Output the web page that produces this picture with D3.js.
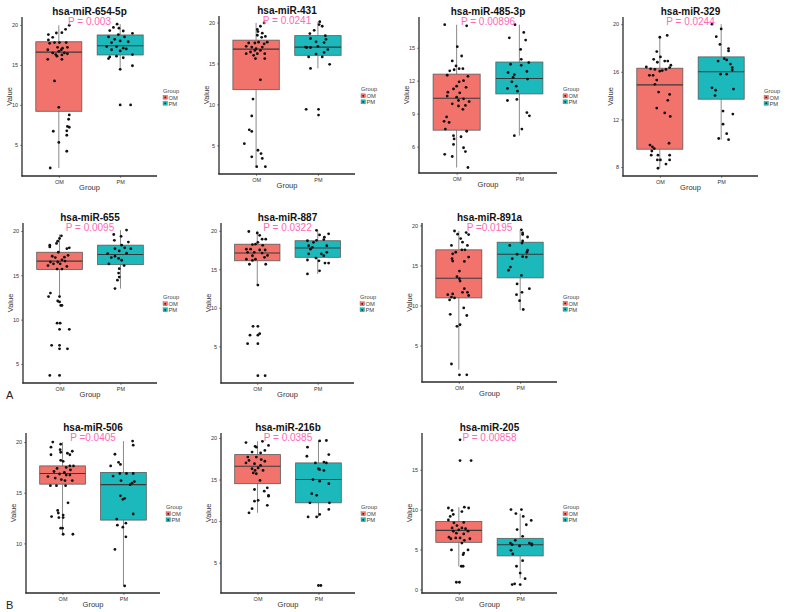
<!DOCTYPE html>
<html><head><meta charset="utf-8">
<script src="https://cdn.jsdelivr.net/npm/d3@7"></script>
<style>body{margin:0;background:#fff} text{font-family:"Liberation Sans",Arial,sans-serif}</style>
</head><body><svg id="c" width="800" height="612"></svg>
<script>
const titles = ["hsa-miR-654-5p","hsa-miR-431","hsa-miR-485-3p","hsa-miR-329","hsa-miR-655","hsa-miR-887","hsa-miR-891a","hsa-miR-506","hsa-miR-216b","hsa-miR-205"];
const pLabels = ["P = 0.003","P = 0.0241","P = 0.00896","P = 0.0244","P = 0.0095","P = 0.0322","P =0.0195","P =0.0405","P = 0.0385","P = 0.00858"];
const groups = ["OM","PM"];
const yTicks = [[5,10,15,20],[5,10,15,20],[6,9,12,15],[8,12,16,20],[5,10,15,20],[5,10,15,20],[5,10,15,20],[10,15,20],[5,10,15,20],[0,5,10,15]];
const yDomains = [[1.1,21.0],[1.5,20.8],[3.6,17.8],[7.25,20.6],[2.85,20.9],[0.25,21.0],[0.45,20.3],[5.1,20.9],[1.35,20.6],[-0.45,19.6]];
// box stats: [lower whisker, q1, median, q3, upper whisker]
const boxOM = [[2.1,9.2,16.6,17.9,19.96],[2.4,11.8,16.75,17.85,19.96],[4.1,7.5,10.4,12.6,17.1],[7.9,9.5,14.9,16.3,19.0],[12.55,15.65,16.6,17.6,19.6],[12.95,16.1,17.1,18.25,19.9],[2.0,10.95,13.4,16.95,19.3],[10.9,15.85,16.9,17.65,20.0],[11.0,14.5,16.6,18.0,19.6],[2.9,5.9,7.4,8.5,10.3]];
const boxPM = [[14.4,16.25,17.4,18.75,20.1],[14.4,16.0,17.0,18.4,20.1],[7.0,10.8,12.2,13.7,17.1],[10.3,13.7,16.0,17.25,20.0],[13.5,16.2,17.35,18.4,20.1],[14.4,16.55,17.75,18.7,20.05],[9.4,13.45,16.4,17.9,19.45],[5.8,12.3,15.8,17.0,20.1],[10.5,12.2,15.0,17.0,19.7],[1.35,4.2,5.6,6.4,9.5]];
// points: [value, jitter (category units)]
const ptsOM = [
[[19.96,.17],[19.46,.11],[19.04,.05],[19.0,-.04],[18.8,-.17],[18.46,-.10],[18.13,-.17],[17.8,-.07],[17.8,.01],[17.7,-.15],[17.8,.12],[17.2,-.02],[17.1,.06],[17.2,.14],[16.9,-.18],[16.9,.04],[16.5,-.10],[16.7,0],[16.5,.09],[16.3,-.05],[16.4,.14],[16.25,.05],[16.1,-.03],[15.7,-.18],[15.7,.05],[13.0,-.07],[9.7,0],[8.75,.17],[8.2,.16],[7.3,.14],[7.2,.17],[6.75,.13],[6.2,.13],[6.7,-.09],[5.3,0],[4.2,.13],[2.1,-.14]],
[[19.96,.13],[19.55,.07],[19.15,.02],[18.9,.03],[18.7,.1],[18.45,.02],[18.3,.15],[18.2,.09],[17.6,.04],[17.6,.18],[17.5,-.02],[17.5,-.12],[17.4,.13],[17.1,-.16],[17.0,-.07],[17.0,.1],[16.8,0],[16.6,-.02],[16.6,.07],[16.4,-.09],[16.2,-.16],[16.2,.02],[16.2,.14],[16.0,-.04],[15.6,-.01],[15.6,.14],[13.0,.07],[10.65,-.05],[8.6,-.07],[6.9,-.11],[6.7,-.07],[5.2,-.19],[4.4,.03],[4.0,.08],[3.6,-.07],[3.4,.10],[2.4,.01],[2.4,.15]],
[[17.1,-.19],[17.0,.16],[15.1,.01],[14.25,.08],[13.8,-.07],[13.35,-.01],[13.1,.04],[13.1,.10],[13.0,-.04],[12.9,-.11],[12.5,-.15],[12.4,.18],[12.0,.11],[11.9,.04],[11.5,0],[11.4,.15],[11.25,-.05],[10.95,-.14],[10.9,.05],[10.6,-.15],[10.5,0],[10.35,.11],[10.2,.03],[10.1,.20],[9.9,-.07],[9.75,.14],[9.7,.03],[9.4,.10],[8.7,-.16],[8.3,-.2],[8.2,-.12],[7.6,-.18],[7.4,.16],[7.0,-.05],[6.9,.07],[6.7,-.04],[6.2,-.05],[5.9,.11],[5.55,.14],[5.3,-.19],[5.1,-.07],[4.1,.18]],
[[18.9,0],[19.05,.12],[17.7,-.05],[17.05,-.1],[17.25,.01],[16.9,.08],[16.8,-.04],[16.9,.13],[16.4,-.22],[16.25,-.15],[16.2,-.08],[16.2,.1],[16.35,.16],[16.1,.04],[16.55,.18],[15.7,-.17],[15.7,-.11],[16.05,0],[15.3,-.05],[14.95,-.08],[14.3,-.02],[13.6,.13],[14.1,.16],[12.95,-.05],[12.55,.08],[12.25,.17],[10.0,.15],[9.85,-.16],[9.7,-.12],[9.55,-.09],[9.35,-.13],[9.0,-.14],[9.0,-.03],[9.0,.16],[8.6,.01],[8.6,.16],[8.6,-.04],[8.25,.1],[7.9,-.03]],
[[19.45,.03],[19.15,0],[18.85,-.03],[18.6,-.05],[18.4,-.16],[18.2,-.16],[18.1,.16],[18.0,.12],[17.6,-.02],[17.15,-.12],[17.0,-.07],[17.05,.08],[17.25,.14],[16.75,.04],[16.5,-.15],[16.5,-.03],[16.6,.09],[16.3,-.1],[16.1,-.19],[16.3,.01],[16.0,.12],[15.7,-.04],[15.7,.04],[13.0,-.15],[12.6,-.18],[12.6,0],[12.1,-.03],[12.0,0],[11.6,.02],[11.6,.04],[9.6,-.04],[9.6,.01],[8.9,0],[8.9,.16],[7.1,-.13],[7.1,0],[6.7,0],[6.7,.13],[3.7,-.16],[3.7,0]],
[[19.9,-.14],[19.7,0],[19.4,.04],[18.9,.08],[18.9,.14],[18.5,.01],[18.2,-.08],[18.25,-.03],[18.1,.09],[17.6,-.18],[17.6,-.11],[17.5,.04],[17.5,.13],[17.2,-.16],[17.2,-.05],[17.1,.08],[16.75,-.08],[16.8,.17],[16.55,.12],[16.3,-.18],[16.15,-.08],[16.3,-.03],[15.65,-.13],[15.65,.14],[12.95,.01],[7.6,-.07],[7.6,.01],[6.45,-.12],[6.45,.01],[6.65,.04],[5.35,-.16],[5.35,.01],[1.2,.01],[1.2,.13]],
[[19.3,-.07],[19.1,.12],[18.9,-.02],[18.85,.16],[18.35,.03],[17.9,.06],[17.5,-.12],[17.5,.14],[16.95,.05],[16.95,.1],[16.65,-.05],[16.45,-.1],[15.85,-.11],[15.55,-.1],[16.05,.16],[15.5,.09],[14.3,.01],[13.6,-.03],[13.35,.01],[13.05,.02],[12.1,.09],[11.65,.06],[11.65,.14],[11.45,-.1],[11.35,-.18],[11.05,-.12],[10.95,-.07],[11.25,.16],[10.7,-.15],[9.7,.08],[8.75,.13],[8.9,-.14],[7.6,.02],[7.4,-.03],[2.7,-.12],[1.35,.01],[1.35,.13]],
[[20.0,-.16],[19.8,-.03],[19.5,-.19],[19.25,-.04],[19.0,-.03],[19.1,.16],[18.75,-.19],[18.9,.08],[18.75,.12],[18.2,-.03],[18.1,.01],[17.65,.12],[17.65,.18],[17.5,.06],[17.4,-.09],[17.25,.13],[17.1,-.14],[17.0,.03],[16.85,-.05],[16.75,.06],[16.75,.12],[16.6,-.24],[16.45,-.12],[16.3,-.02],[16.2,.04],[16.2,.16],[15.7,-.2],[15.7,-.1],[15.7,.05],[14.0,.09],[13.25,-.08],[13.0,-.07],[12.8,.01],[12.65,-.18],[12.55,-.06],[12.55,.01],[11.5,-.03],[11.5,0],[10.9,.01],[10.9,.17]],
[[19.45,-.19],[19.6,.08],[19.0,-.04],[18.9,-.02],[19.1,.18],[18.5,.12],[18.2,.05],[18.3,-.09],[17.7,-.16],[17.7,-.02],[17.3,-.14],[17.4,.06],[17.2,.12],[17.0,-.19],[16.9,-.05],[16.7,.05],[16.4,.01],[16.3,-.09],[16.1,-.04],[16.1,.09],[15.8,-.07],[15.7,-.02],[14.9,.04],[13.8,-.05],[14.0,.16],[13.6,.11],[13.1,.18],[13.0,.18],[12.5,.01],[12.4,-.05],[11.9,.16],[11.5,-.09],[11.0,-.14]],
[[18.75,.02],[16.15,.02],[16.15,.2],[10.2,-.17],[10.3,.09],[10.2,.16],[9.9,-.11],[9.75,.05],[9.4,-.09],[9.15,-.14],[8.7,-.17],[8.35,-.08],[8.4,.08],[8.0,-.03],[7.7,-.11],[7.7,.05],[7.6,.11],[7.45,0],[7.3,-.09],[7.3,.15],[7.05,-.04],[6.95,.08],[6.55,-.16],[6.45,-.05],[6.35,-.13],[6.45,.02],[6.35,.18],[6.15,.09],[5.8,.05],[4.95,-.12],[4.95,.15],[4.55,.08],[4.35,.07],[2.9,.04],[2.9,.07],[0.9,-.04],[0.9,.01]]
];
const ptsPM = [
[[20.1,-.05],[19.7,-.11],[19.6,-.02],[19.3,-.17],[19.25,.05],[18.96,.2],[18.8,-.03],[18.5,-.19],[18.5,.07],[18.2,-.09],[18.0,0],[17.8,-.14],[17.9,.13],[17.3,-.22],[17.3,-.06],[17.1,.05],[16.9,-.14],[17.0,.1],[16.75,0],[16.3,.2],[16.0,-.17],[16.1,-.06],[15.8,-.19],[15.9,.05],[14.45,0],[14.9,.2],[10.0,0],[10.0,.17]],
[[20.1,.03],[19.75,.02],[19.55,.07],[19.05,-.06],[18.65,-.13],[18.4,.12],[18.05,-.12],[17.95,.13],[17.65,-.03],[17.55,.1],[17.0,-.2],[16.95,-.18],[16.95,-.12],[17.1,0],[16.7,.16],[16.35,.1],[16.15,-.03],[15.8,-.15],[15.8,.07],[14.9,.19],[14.4,-.12],[9.4,-.19],[9.4,.01],[8.7,.01]],
[[17.1,-.07],[16.4,.07],[15.9,-.16],[15.7,.1],[14.85,.02],[13.95,.03],[13.5,-.14],[13.65,.15],[13.4,.03],[12.75,-.18],[12.85,.12],[12.55,-.08],[12.3,-.1],[12.15,.13],[11.9,-.12],[11.5,-.05],[11.3,-.19],[11.05,-.03],[10.2,-.19],[10.3,-.04],[9.1,.12],[8.8,.16],[7.6,.04],[7.0,-.08]],
[[20.0,-.15],[19.6,0],[18.95,-.08],[18.3,-.02],[17.95,.12],[17.75,.12],[17.1,.05],[17.0,.09],[16.9,-.05],[16.65,.15],[16.15,.18],[16.35,.18],[15.8,-.01],[15.8,.09],[14.65,-.15],[14.45,-.09],[14.55,.2],[14.0,-.1],[12.7,.03],[12.45,.19],[11.6,.03],[10.8,.09],[10.4,-.04],[10.3,.12]],
[[20.1,.1],[19.6,-.11],[19.4,.01],[18.95,-.1],[18.75,.13],[18.4,.02],[18.0,-.09],[18.1,.07],[18.0,.17],[17.75,-.02],[17.45,-.21],[17.15,-.09],[17.5,.1],[17.0,-.15],[16.9,-.03],[16.7,.02],[16.3,-.19],[16.1,.06],[15.75,-.02],[15.25,-.03],[14.8,-.02],[14.45,-.05],[13.5,-.09]],
[[20.05,-.02],[19.6,.18],[19.45,.03],[19.15,.11],[18.85,.1],[18.7,-.17],[18.5,-.07],[18.75,-.02],[18.05,-.15],[17.85,-.09],[18.05,.15],[17.6,-.12],[17.0,-.15],[17.0,.06],[17.2,.15],[16.75,.1],[16.45,-.03],[16.2,-.17],[16.1,.02],[15.8,.18],[15.8,.12],[14.8,.03],[14.4,-.17]],
[[19.45,.02],[19.05,.04],[18.85,.04],[18.55,.12],[18.05,.04],[17.8,.03],[17.5,-.17],[16.9,.12],[16.65,.11],[16.1,.04],[16.05,.1],[16.4,-.05],[15.85,-.13],[14.8,-.16],[14.4,-.19],[12.7,-.05],[13.75,.02],[12.1,.15],[11.65,.03],[11.35,-.06],[10.6,-.01],[9.5,.05]],
[[20.1,.15],[19.7,.16],[18.8,-.14],[18.0,-.08],[17.8,-.05],[17.65,-.21],[16.65,-.17],[16.9,-.06],[16.9,.05],[16.9,.16],[16.2,-.04],[16.1,.18],[15.8,.11],[15.95,.14],[14.7,-.05],[14.35,-.01],[14.45,.02],[12.9,.16],[12.4,-.11],[12.0,.04],[11.8,-.1],[11.6,-.01],[10.65,.04],[9.4,-.14],[5.8,.02]],
[[19.65,.02],[19.7,.13],[18.9,-.18],[17.8,-.19],[18.0,.17],[17.0,-.05],[17.1,.09],[17.0,.13],[16.3,0],[16.2,.02],[16.1,.09],[15.0,-.09],[14.8,.02],[14.5,.17],[13.3,-.11],[13.1,-.03],[12.2,-.14],[12.2,.18],[11.4,.17],[10.8,.02],[10.5,-.17],[10.5,-.03],[2.25,0],[2.25,.04]],
[[10.0,-.15],[10.0,.02],[9.5,-.07],[9.15,.05],[8.65,.18],[8.1,.1],[7.5,-.05],[6.65,.04],[6.15,-.08],[5.8,-.16],[5.8,.15],[5.7,.19],[5.6,-.13],[5.45,-.01],[4.9,-.15],[5.55,.19],[4.45,-.12],[3.6,.04],[2.9,-.06],[2.05,0],[1.35,.08],[0.7,-.09],[0.6,-.13],[0.6,0]]
];
const fills = {OM:"#F1736B", PM:"#1BB9BC"};

// layout (plot rectangles, pixels)
const frames = [
 {l:22,r:157,t:17,b:176},{l:219,r:355,t:16,b:174},{l:419,r:557,t:17,b:173},{l:623,r:758,t:17,b:176},
 {l:23,r:157,t:223,b:383},{l:221,r:354,t:223,b:383},{l:422,r:557,t:223,b:382},
 {l:26,r:160,t:433,b:593},{l:221,r:355,t:433,b:593},{l:422,r:557,t:433,b:593}
];

const svg = d3.select("#c");
frames.forEach((f,i)=>{
  const g = svg.append("g");
  const x = d3.scalePoint().domain(groups).range([f.l,f.r]).padding(0.6);
  const step = x.step(), bw = step*0.75;
  const y = d3.scaleLinear().domain(yDomains[i]).range([f.b,f.t]);
  const boxes = [["OM",boxOM[i]],["PM",boxPM[i]]];
  boxes.forEach(([grp,s])=>{
    const cx = x(grp);
    g.append("line").attr("x1",cx).attr("x2",cx).attr("y1",y(s[0])).attr("y2",y(s[1])).attr("stroke","#8a8a8a").attr("stroke-width",1);
    g.append("line").attr("x1",cx).attr("x2",cx).attr("y1",y(s[3])).attr("y2",y(s[4])).attr("stroke","#8a8a8a").attr("stroke-width",1);
    g.append("rect").attr("x",cx-bw/2).attr("width",bw).attr("y",y(s[3])).attr("height",y(s[1])-y(s[3]))
      .attr("fill",fills[grp]).attr("stroke","#5a5a5a").attr("stroke-width",0.8);
    g.append("line").attr("x1",cx-bw/2).attr("x2",cx+bw/2).attr("y1",y(s[2])).attr("y2",y(s[2])).attr("stroke","#3a3a3a").attr("stroke-width",1.1);
  });
  [["OM",ptsOM[i]],["PM",ptsPM[i]]].forEach(([grp,pts])=>{
    g.selectAll(null).data(pts).enter().append("circle")
      .attr("cx",d=>x(grp)+d[1]*step).attr("cy",d=>y(d[0])).attr("r",1.4).attr("fill","#111");
  });
  // axes
  const ay = g.append("g").attr("transform",`translate(${f.l},0)`)
    .call(d3.axisLeft(y).tickValues(yTicks[i]).tickSize(2).tickSizeOuter(0).tickPadding(2));
  const ax = g.append("g").attr("transform",`translate(0,${f.b})`)
    .call(d3.axisBottom(x).tickSize(2).tickSizeOuter(0).tickPadding(2));
  [ay,ax].forEach(a=>{
    a.select(".domain").remove();
    a.selectAll(".tick line").attr("stroke","#444").attr("stroke-width",0.6);
    a.selectAll(".tick text").attr("font-size",5.5).attr("fill","#333").attr("font-family","Liberation Sans, Arial, sans-serif");
  });
  g.append("line").attr("x1",f.l).attr("x2",f.l).attr("y1",f.t).attr("y2",f.b+0.6).attr("stroke","#2a2a2a").attr("stroke-width",1.3);
  g.append("line").attr("x1",f.l-0.6).attr("x2",f.r).attr("y1",f.b).attr("y2",f.b).attr("stroke","#2a2a2a").attr("stroke-width",1.3);
  const cxm = (f.l+f.r)/2, cym = (f.t+f.b)/2;
  g.append("text").attr("x",cxm).attr("y",f.t-2).attr("text-anchor","middle").attr("font-size",10).attr("font-weight","bold").attr("fill","#111").text(titles[i]);
  g.append("text").attr("x",cxm).attr("y",f.t+8).attr("text-anchor","middle").attr("font-size",10).attr("fill","#FF69B4").text(pLabels[i]);
  g.append("text").attr("x",cxm).attr("y",f.b+14).attr("text-anchor","middle").attr("font-size",7.5).attr("fill","#333").text("Group");
  g.append("text").attr("transform",`translate(${f.l-10},${cym}) rotate(-90)`).attr("text-anchor","middle").attr("font-size",7.5).attr("fill","#333").text("Value");
  // legend
  const lx = f.r+6;
  g.append("text").attr("x",lx).attr("y",cym-4).attr("font-size",5.8).attr("fill","#444").text("Group");
  groups.forEach((grp,k)=>{
    const ly = cym+1+k*6;
    g.append("rect").attr("x",lx).attr("y",ly-2.2).attr("width",4.5).attr("height",4).attr("fill",fills[grp]).attr("stroke","#777").attr("stroke-width",0.4);
    g.append("circle").attr("cx",lx+2.25).attr("cy",ly-0.2).attr("r",0.9).attr("fill","#222");
    g.append("text").attr("x",lx+5.5).attr("y",ly+2).attr("font-size",5.8).attr("fill","#444").text(grp);
  });
});
svg.append("text").attr("x",6).attr("y",399).attr("font-size",11).attr("fill","#222").text("A");
svg.append("text").attr("x",6).attr("y",609).attr("font-size",11).attr("fill","#222").text("B");
</script></body></html>
